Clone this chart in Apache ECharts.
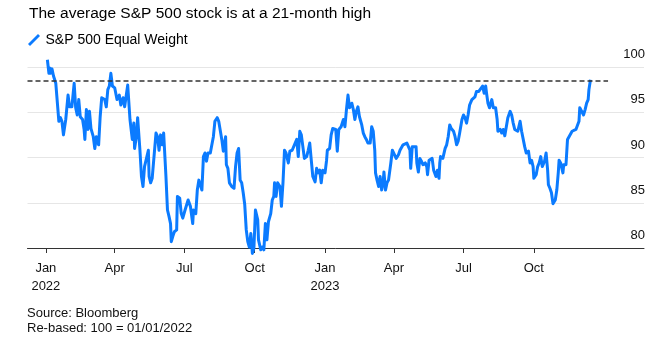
<!DOCTYPE html>
<html>
<head>
<meta charset="utf-8">
<script src="https://cdn.jsdelivr.net/npm/echarts@6/dist/echarts.min.js"></script>
<style>
html,body{margin:0;padding:0;background:#fff;}
#chart{width:672px;height:345px;}
</style>
</head>
<body>
<div id="chart"></div>
<script>
// ---- Data ----
const titleText = 'The average S&P 500 stock is at a 21-month high';
const seriesName = 'S&P 500 Equal Weight';
const sourceLines = ['Source: Bloomberg', 'Re-based: 100 = 01/01/2022'];

// Axis range (dates)
const axisStart = '2021-12-08';
const axisEnd = '2024-02-22';

// Day offsets from 2022-01-01 and the rebased index values
const dayOffsets = [2,4,5,6,8,10,13,17,19,21,23,26,29,31,34,37,39,41,43,45,48,50,51,53,55,57,59,62,64,66,69,71,73,77,79,81,83,85,87,90,93,96,98,101,103,105,107,110,112,113,115,116,118,120,123,125,127,129,131,134,135,137,139,141,144,146,148,150,152,154,157,159,161,163,164,166,168,171,172,175,177,179,182,184,186,189,192,193,196,198,200,202,204,206,208,210,212,215,217,219,221,224,226,230,232,235,236,238,240,243,246,248,250,252,254,256,258,260,262,264,266,268,270,272,274,277,278,281,283,285,287,289,291,294,296,298,299,301,303,306,308,310,312,314,317,319,322,325,328,330,332,334,336,338,341,343,345,347,349,352,354,356,358,360,362,365,367,368,371,373,375,379,381,383,386,389,391,393,395,397,400,402,404,406,408,410,413,415,417,419,421,424,426,428,430,431,433,435,437,439,441,442,444,446,448,451,453,455,458,461,463,465,467,469,472,474,476,477,479,481,484,485,487,489,491,493,496,498,499,501,503,505,507,510,512,514,515,516,519,522,524,526,528,530,533,535,537,539,541,544,546,548,550,552,554,557,559,561,563,566,568,571,573,575,576,578,580,583,585,588,590,591,594,596,598,600,602,604,607,609,611,613,615,617,620,622,624,626,628,631,633,635,637,638,641,643,645,647,649,652,654,656,657,659,661,663,666,668,670,671,673,676,677,680,682,684,686,688,690,693,695,697,698,700,703,705,707,709,710,712];
const values = [100.8,99.3,99.9,99.3,99.8,99.0,98.2,94.0,94.4,94.0,92.5,94.2,96.9,95.6,95.6,98.2,95.5,94.7,96.4,94.5,94.2,93.1,92.0,95.3,93.1,95.1,93.2,92.3,91.0,92.3,91.4,94.5,96.6,96.4,95.6,97.5,97.9,99.3,97.9,97.7,96.4,96.9,95.8,96.6,95.6,95.6,98.0,94.2,94.0,92.0,93.8,91.0,92.1,94.4,90.8,87.9,86.8,89.0,89.2,90.8,87.9,87.2,87.7,87.9,92.7,92.3,90.8,92.5,91.4,92.7,87.9,84.2,83.5,82.7,80.7,81.3,81.8,82.0,85.7,85.5,83.8,83.3,84.2,84.0,85.3,84.6,82.7,84.2,83.8,86.4,87.5,87.3,86.4,90.1,90.5,89.6,90.5,90.5,90.7,92.3,94.0,94.4,94.0,92.0,90.7,92.3,89.2,88.8,87.2,86.8,86.6,89.0,90.5,91.0,87.5,87.2,86.1,84.8,82.0,80.7,80.1,81.6,79.4,80.0,84.2,83.1,80.9,79.8,80.1,79.8,82.7,80.9,82.9,83.8,85.3,85.7,87.2,85.7,87.2,86.8,84.6,87.2,90.8,90.5,89.4,90.7,90.8,91.4,92.0,90.1,92.9,92.5,91.2,89.9,90.1,90.8,91.6,89.7,87.9,87.3,88.8,88.3,88.6,87.2,88.6,88.3,89.7,90.8,91.0,92.5,93.2,93.1,90.7,93.1,93.4,94.2,93.4,95.3,96.9,95.5,96.0,95.3,94.2,95.1,95.6,94.5,93.6,92.7,92.3,92.0,91.6,91.6,93.4,92.9,90.8,88.3,87.5,86.8,87.9,86.4,87.3,88.4,86.4,87.2,87.5,89.4,90.8,90.8,89.9,90.3,90.8,91.0,91.4,91.2,91.6,91.2,90.8,88.8,91.2,91.0,91.2,89.4,88.4,89.9,89.6,89.2,89.4,89.0,88.1,89.7,89.9,89.9,88.6,87.9,88.6,87.7,89.4,90.1,89.9,91.0,91.4,92.3,93.6,93.2,92.9,92.3,91.4,91.8,92.7,94.2,94.7,94.4,93.8,94.7,95.8,96.4,96.2,96.7,97.3,97.3,97.5,97.9,97.1,97.9,97.2,96.0,95.5,96.4,95.5,95.5,94.2,92.9,93.1,92.7,93.1,92.4,93.4,94.4,95.1,94.7,93.8,93.1,93.2,92.9,94.0,92.9,92.7,91.2,90.5,90.7,89.4,89.7,89.0,87.7,88.1,89.0,89.4,90.1,89.0,89.6,90.5,88.6,87.0,86.6,86.1,84.9,85.3,86.4,88.4,89.7,89.4,88.3,89.2,89.2,92.0,92.3,92.5,92.9,93.1,93.1,92.9,94.0,95.5,95.3,94.7,95.3,96.0,96.4,97.5,98.6];

// Reference (previous high) level and where the dashed line ends
const refLevel = 98.5;
const refEnd = '2024-01-06';

// X tick positions and labels
const tickDates = ['2022-01-01','2022-04-01','2022-07-01','2022-10-01','2023-01-01','2023-04-01','2023-07-01','2023-10-01'];
const tickLabels = ['Jan\n2022','Apr','Jul','Oct','Jan\n2023','Apr','Jul','Oct'];

// Y axis ticks
const yMin = 80, yMax = 100, yStep = 5;

// ---- Build ----
const DAY = 86400000;
function iso(t){ return new Date(t).toISOString().slice(0,10); }
const t0 = Date.parse(axisStart + 'T00:00:00Z');
const t1 = Date.parse(axisEnd + 'T00:00:00Z');
const base = Date.parse('2022-01-01T00:00:00Z');
const categories = [];
for (let t = t0; t <= t1; t += DAY) categories.push(iso(t));
const valueByDate = {};
dayOffsets.forEach((d, i) => { valueByDate[iso(base + d * DAY)] = values[i]; });
const seriesData = categories.map(c => (c in valueByDate ? valueByDate[c] : null));
const labelMap = {};
tickDates.forEach((d, i) => { labelMap[d] = tickLabels[i]; });
const isTick = (idx, val) => (val in labelMap);

const BLUE = '#0b7bff';
const FONT = '"Liberation Sans", Arial, sans-serif';

const chart = echarts.init(document.getElementById('chart'), null, {renderer: 'canvas'});
chart.setOption({
  animation: false,
  backgroundColor: '#ffffff',
  textStyle: {fontFamily: FONT},
  title: {
    text: titleText,
    left: 29, top: 6, padding: 0,
    textStyle: {fontFamily: FONT, fontSize: 15.5, fontWeight: 'normal', color: '#000'}
  },
  legend: {
    left: 28, top: 33, padding: 0,
    itemWidth: 13, itemHeight: 12,
    itemGap: 10,
    data: [{name: seriesName, icon: 'path://M0,10 L10,0 L12,2 L2,12 Z'}],
    textStyle: {fontFamily: FONT, fontSize: 14, color: '#000'},
    selectedMode: false
  },
  grid: {left: 27.5, right: 28, top: 67, bottom: 97, containLabel: false, outerBoundsMode: 'none'},
  xAxis: {
    type: 'category',
    data: categories,
    boundaryGap: false,
    axisLine: {show: true, lineStyle: {color: '#333', width: 1}},
    axisTick: {show: true, interval: isTick, length: 5, lineStyle: {color: '#333', width: 1}},
    axisLabel: {
      show: true, interval: isTick,
      formatter: v => labelMap[v] || '',
      margin: 12, fontSize: 13, lineHeight: 17.5, color: '#111', fontFamily: FONT
    },
    splitLine: {show: false}
  },
  yAxis: {
    type: 'value',
    position: 'right',
    min: yMin, max: yMax, interval: yStep,
    axisLine: {show: false},
    axisTick: {show: false},
    axisLabel: {
      inside: true, margin: -1, fontSize: 13, color: '#111', fontFamily: FONT,
      verticalAlign: 'bottom', padding: [0, 0, 6, 0]
    },
    splitLine: {show: true, lineStyle: {color: '#e6e6e6', width: 1}}
  },
  series: [{
    name: seriesName,
    type: 'line',
    data: seriesData,
    connectNulls: true,
    showSymbol: false,
    symbol: 'none',
    clip: false,
    color: BLUE,
    lineStyle: {color: BLUE, width: 3, join: 'round'},
    emphasis: {disabled: true},
    markLine: {
      silent: true,
      symbol: ['none', 'none'],
      label: {show: false},
      lineStyle: {color: '#333', type: [5, 3], width: 1.5},
      data: [[{coord: [categories[0], refLevel]}, {coord: [refEnd, refLevel]}]]
    },
    z: 3
  }],
  graphic: [{
    type: 'text',
    left: 27, top: 306,
    style: {
      text: sourceLines.join('\n'),
      font: '13px ' + FONT,
      lineHeight: 15,
      fill: '#111'
    }
  }]
});
</script>
</body>
</html>
